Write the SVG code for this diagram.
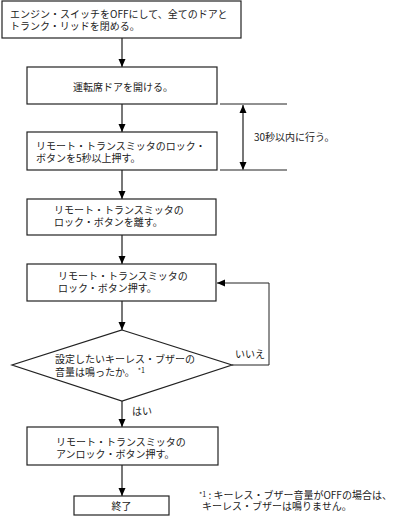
<svg xmlns="http://www.w3.org/2000/svg" width="402" height="516" viewBox="0 0 402 516">
<style>
.box{fill:#fff;stroke:#222;stroke-width:1.2}
.conn{fill:none;stroke:#777;stroke-width:2}
.dim{fill:none;stroke:#222;stroke-width:1}
text{font-family:"Noto Sans CJK JP","Noto Sans",sans-serif;font-size:10px;fill:#222}
.sup{font-size:7px}
</style>
<defs>
<marker id="ah" viewBox="0 0 8 8" refX="8" refY="4" markerWidth="8" markerHeight="8" markerUnits="userSpaceOnUse" orient="auto">
<path d="M0,0.5 L8,4 L0,7.5 Z" fill="#000"/>
</marker>
<marker id="as" viewBox="0 0 8 8" refX="8" refY="4" markerWidth="8" markerHeight="8" markerUnits="userSpaceOnUse" orient="auto-start-reverse">
<path d="M0,0.5 L8,4 L0,7.5 Z" fill="#000"/>
</marker>
</defs>
<rect width="402" height="516" fill="#fff"/>
<g id="connectors">
<line class="conn" x1="122" y1="38" x2="122" y2="67" marker-end="url(#ah)"/>
<line class="conn" x1="122" y1="104" x2="122" y2="132" marker-end="url(#ah)"/>
<line class="conn" x1="122" y1="170" x2="122" y2="199" marker-end="url(#ah)"/>
<line class="conn" x1="122" y1="235" x2="122" y2="264" marker-end="url(#ah)"/>
<line class="conn" x1="122" y1="301" x2="122" y2="330" marker-end="url(#ah)"/>
<line class="conn" x1="122" y1="401" x2="122" y2="427" marker-end="url(#ah)"/>
<line class="conn" x1="122" y1="465" x2="122" y2="496" marker-end="url(#ah)"/>
<polyline class="dim" points="232,365 269,365 269,283 217,283" marker-end="url(#ah)"/>
<text x="235" y="358">いいえ</text>
<text x="132" y="415">はい</text>
</g>
<g id="timing">
<line class="dim" x1="220" y1="104" x2="287" y2="104"/>
<line class="dim" x1="220" y1="170" x2="287" y2="170"/>
<line class="conn" x1="243" y1="105" x2="243" y2="170" marker-start="url(#as)" marker-end="url(#ah)"/>
<text x="254" y="141">30秒以内に行う。</text>
</g>
<g id="n1">
<rect class="box" x="2" y="1" width="239" height="37"/>
<text x="10" y="18">エンジン・スイッチをOFFにして、全てのドアと<tspan x="10" dy="12">トランク・リッドを閉める。</tspan></text>
</g>
<g id="n2">
<rect class="box" x="27" y="67" width="190" height="37"/>
<text x="73" y="91">運転席ドアを開ける。</text>
</g>
<g id="n3">
<rect class="box" x="27" y="132" width="190" height="38"/>
<text x="36" y="150">リモート・トランスミッタのロック・<tspan x="36" dy="12">ボタンを5秒以上押す。</tspan></text>
</g>
<g id="n4">
<rect class="box" x="27" y="199" width="189" height="36"/>
<text x="54" y="214">リモート・トランスミッタの<tspan x="54" dy="12">ロック・ボタンを離す。</tspan></text>
</g>
<g id="n5">
<rect class="box" x="27" y="264" width="189" height="37"/>
<text x="58" y="280">リモート・トランスミッタの<tspan x="58" dy="12">ロック・ボタン押す。</tspan></text>
</g>
<g id="n6">
<polygon class="box" points="122,330 232,365 122,401 12,365"/>
<text x="55" y="363">設定したいキーレス・ブザーの<tspan x="55" dy="13">音量は鳴ったか。</tspan><tspan class="sup" dx="3" dy="-3">*1</tspan></text>
</g>
<g id="n7">
<rect class="box" x="27" y="427" width="191" height="38"/>
<text x="56" y="446">リモート・トランスミッタの<tspan x="56" dy="12">アンロック・ボタン押す。</tspan></text>
</g>
<g id="n8">
<rect class="box" x="74" y="496" width="95" height="19"/>
<text x="121.5" y="510" text-anchor="middle">終了</text>
</g>
<g id="note">
<text x="199" y="497"><tspan class="sup">*1</tspan><tspan dy="2"> : キーレス・ブザー音量がOFFの場合は、</tspan><tspan x="202" dy="11">キーレス・ブザーは鳴りません。</tspan></text>
</g>
</svg>
